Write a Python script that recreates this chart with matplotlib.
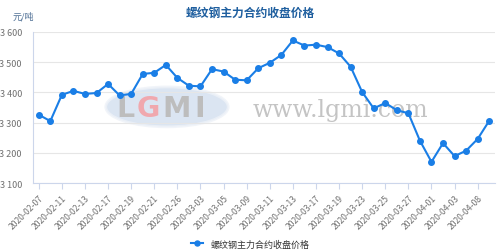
import matplotlib
matplotlib.use("Agg")
import matplotlib.pyplot as plt
from matplotlib.patches import Ellipse

plt.rcParams['font.family'] = ['Noto Sans CJK SC', 'DejaVu Sans']

# trading dates (only every other one is labelled on the axis)
dates = [
    "2020-02-07", "2020-02-10", "2020-02-11", "2020-02-12", "2020-02-13",
    "2020-02-14", "2020-02-17", "2020-02-18", "2020-02-19", "2020-02-20",
    "2020-02-21", "2020-02-24", "2020-02-26", "2020-02-28", "2020-03-03",
    "2020-03-04", "2020-03-05", "2020-03-06", "2020-03-09", "2020-03-10",
    "2020-03-11", "2020-03-12", "2020-03-13", "2020-03-16", "2020-03-17",
    "2020-03-18", "2020-03-19", "2020-03-20", "2020-03-23", "2020-03-24",
    "2020-03-25", "2020-03-26", "2020-03-27", "2020-03-30", "2020-04-01",
    "2020-04-02", "2020-04-03", "2020-04-07", "2020-04-08", "2020-04-09",
]
prices = [
    3326, 3305, 3392, 3405, 3395, 3398, 3428, 3390, 3395, 3461,
    3465, 3491, 3448, 3422, 3420, 3477, 3469, 3442, 3440, 3480,
    3498, 3524, 3572, 3555, 3558, 3550, 3529, 3485, 3401, 3347,
    3365, 3341, 3331, 3240, 3170, 3232, 3189, 3207, 3246, 3306,
]
yticks = [3100, 3200, 3300, 3400, 3500, 3600]
series_name = "螺纹钢主力合约收盘价格"

BLUE = "#1a7ee6"
GRAY = "#707070"

fig = plt.figure(figsize=(4.99, 2.53), dpi=100)
ax = fig.add_axes([33 / 499, 1 - 184 / 253, (495 - 33) / 499, (184 - 33) / 253])

x = list(range(len(prices)))

# watermark (logo + site name)
ax.add_patch(Ellipse((11.1, 3352), 10.6, 132, facecolor="#d3dfef", edgecolor="#eef2f8",
                     linewidth=2, alpha=0.8, zorder=0))
wm_letters = [("L", 7.5, "#bdbdbd"), ("G", 9.5, "#f0a8ae"), ("M", 11.95, "#bdbdbd"),
              ("I", 13.9, "#bdbdbd")]
for letter, lx, lc in wm_letters:
    ax.text(lx, 3348, letter, color=lc, fontsize=20.5, ha="center", va="center",
            fontweight="bold", family="DejaVu Sans", zorder=1)
ax.text(26.1, 3345, "www.lgmi.com", color="#c4c4c4", fontsize=17, ha="center",
        va="center", family="DejaVu Serif", zorder=1)

line, = ax.plot(x, prices, color=BLUE, linewidth=1.5, marker="o", markersize=4,
                markerfacecolor=BLUE, markeredgecolor=BLUE, zorder=3, label=series_name)

ax.set_xlim(-0.5, len(prices) - 0.5)
ax.set_ylim(3100, 3600)
ax.set_yticks(yticks)
ax.set_yticklabels([f"{v // 1000} {v % 1000:03d}" for v in yticks], color=GRAY, fontsize=6.5)
ax.set_xticks(x[::2])
ax.set_xticklabels(dates[::2], rotation=45, ha="right", rotation_mode="anchor",
                   color=GRAY, fontsize=6.2)
ax.tick_params(axis="y", length=0, pad=8)
ax.tick_params(axis="x", length=4, color="#ccd6eb", pad=3)
ax.grid(axis="y", color="#e6e6e6", linewidth=0.8)
ax.set_axisbelow(True)
for side in ["top", "right"]:
    ax.spines[side].set_visible(False)
ax.spines["left"].set_color("#ccd6eb")
ax.spines["bottom"].set_color("#ccd6eb")

fig.text(250 / 499, 1 - 13 / 253, series_name, ha="center", va="center",
         fontsize=8.5, fontweight="bold", color="#1f5f9f")
fig.text(13 / 499, 1 - 17 / 253, "元/吨", ha="left", va="center", fontsize=6.5, color="#4d6e94")

fig.legend(handles=[line], loc="center", bbox_to_anchor=(250 / 499, 1 - 245 / 253),
           frameon=False, fontsize=6.5, handlelength=1.4, markerscale=0.9,
           labelcolor="#333333")

fig.savefig("out.png", dpi=100)
